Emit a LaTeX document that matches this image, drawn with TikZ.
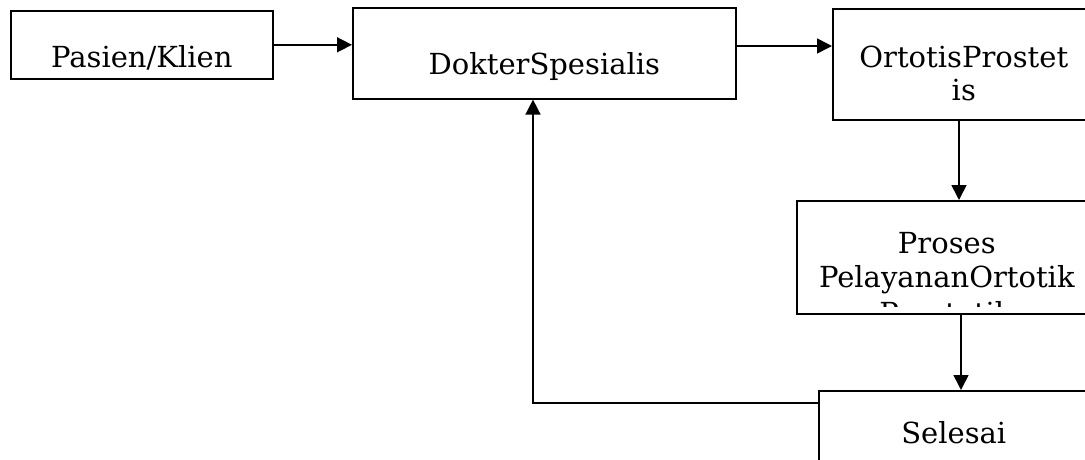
\documentclass[tikz,border=0pt]{standalone}
\usepackage{fontspec}
\setmainfont{DejaVu Serif}
\usetikzlibrary{arrows.meta,calc}
\tikzset{
  box/.style={draw, line width=1.6pt, inner sep=0pt, align=center, anchor=north west,
    font=\fontsize{29}{33}\selectfont},
  arr/.style={line width=1.6pt, -{Triangle[length=15pt,width=15pt]}},
}
\begin{document}
\begin{tikzpicture}[x=1pt,y=-1pt]
\useasboundingbox (0,0) rectangle (1085,459);
\clip (0,0) rectangle (1085,459);
\node[box, minimum width=262pt, text height=57pt, text depth=11pt] (pasien) at (10,10) {Pasien/Klien};
\node[box, minimum width=383pt, text height=67pt, text depth=24pt] (dokter) at (352,7) {DokterSpesialis};
\node[box, minimum width=262pt, text height=92pt, text depth=19pt] (ortotis) at (832,8) {OrtotisProstet\\is};
\node[box, minimum width=300pt, text height=87pt, text depth=26pt, font=\fontsize{29}{34}\selectfont] (proses) at (796,200) {Proses\\PelayananOrtotik};
\node[box, minimum width=270pt, text height=53pt, text depth=37pt] (selesai) at (818,390) {Selesai};
\begin{scope}
  \clip (797,299) rectangle (1085,306);
  \node[anchor=base, font=\fontsize{29}{34}\selectfont, inner sep=0pt] (prost) at (946,323) {Prostetik};
\end{scope}
\coordinate (r1) at (0,46);
\coordinate (c1) at (959,0);
\coordinate (c2) at (961,0);
\coordinate (fb) at (533,403);
\draw[arr] (pasien.east) -- (dokter.west |- pasien.east);
\draw[arr] (dokter.east |- r1) -- (ortotis.west |- r1);
\draw[arr] (ortotis.south -| c1) -- (proses.north -| c1);
\draw[arr] (proses.south -| c2) -- (selesai.north -| c2);
\draw[arr] (selesai.west |- fb) -- (fb) -- (dokter.south -| fb);
\end{tikzpicture}
\end{document}
